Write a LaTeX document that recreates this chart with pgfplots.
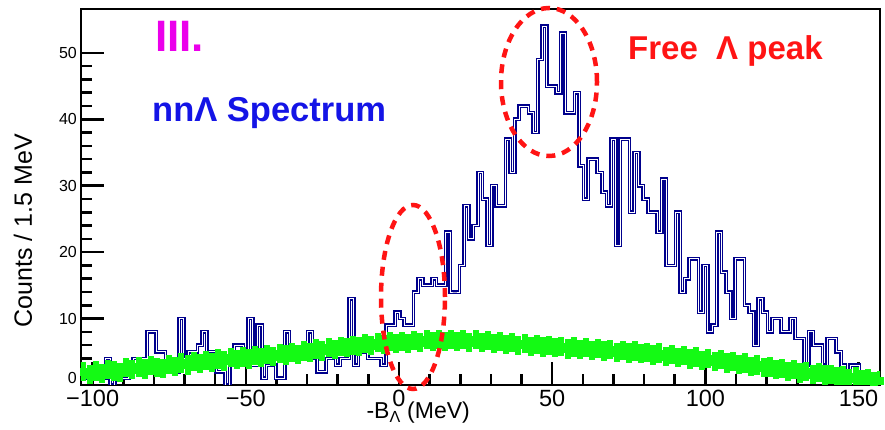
\documentclass[border=0pt]{standalone}
\usepackage{pgfplots}
\pgfplotsset{compat=1.18}
\usepackage{pgfplotstable}
\usepackage{fontspec}
\setmainfont{Liberation Sans}
\definecolor{histblue}{RGB}{0,0,140}
\definecolor{bkggreen}{RGB}{20,250,20}
\definecolor{annred}{RGB}{255,20,20}
\definecolor{annmag}{RGB}{235,0,235}
\definecolor{annblue}{RGB}{20,20,230}

% nnL spectrum, 1.5 MeV bins, left bin edges
\pgfplotstableread{
x y
-103.25 2
-101.75 1
-100.25 2
-98.75 2
-97.25 1
-95.75 4
-94.25 0
-92.75 1
-91.25 1
-89.75 1
-88.25 2
-86.75 4
-85.25 4
-83.75 4
-82.25 8
-80.75 8
-79.25 5
-77.75 5
-76.25 2
-74.75 2
-73.25 2
-71.75 10
-70.25 4
-68.75 5
-67.25 5
-65.75 6
-64.25 8
-62.75 5
-61.25 5
-59.75 2
-58.25 2
-56.75 0
-55.25 5
-53.75 6
-52.25 6
-50.75 5
-49.25 10
-47.75 3
-46.25 9
-44.75 1
-43.25 3
-41.75 3
-40.25 1
-38.75 1
-37.25 8
-35.75 5
-34.25 5
-32.75 4
-31.25 4
-29.75 8
-28.25 4
-26.75 2
-25.25 2
-23.75 4
-22.25 4
-20.75 3
-19.25 4
-17.75 4
-16.25 13
-14.75 3
-13.25 5
-11.75 5
-10.25 4
-8.75 4
-7.25 4
-5.75 3
-4.25 9
-2.75 9
-1.25 11
0.25 10
1.75 9
3.25 9
4.75 14
6.25 16
7.75 15
9.25 15
10.75 16
12.25 15
13.75 15
15.25 23
16.75 14
18.25 14
19.75 18
21.25 27
22.75 22
24.25 24
25.75 32
27.25 28
28.75 21
30.25 30
31.75 27
33.25 27
34.75 37
36.25 32
37.75 40
39.25 42
40.75 42
42.25 41
43.75 38
45.25 49
46.75 54
48.25 45
49.75 45
51.25 44
52.75 53
54.25 41
55.75 41
57.25 44
58.75 33
60.25 28
61.75 34
63.25 34
64.75 32
66.25 29
67.75 27
69.25 37
70.75 21
72.25 37
73.75 37
75.25 26
76.75 35
78.25 30
79.75 28
81.25 26
82.75 26
84.25 23
85.75 31
87.25 18
88.75 18
90.25 26
91.75 14
93.25 16
94.75 19
96.25 19
97.75 11
99.25 18
100.75 8
102.25 9
103.75 23
105.25 17
106.75 14
108.25 10
109.75 19
111.25 19
112.75 12
114.25 11
115.75 6
117.25 13
118.75 11
120.25 8
121.75 10
123.25 10
124.75 8
126.25 8
127.75 10
129.25 7
130.75 7
132.25 3
133.75 8
135.25 6
136.75 6
138.25 3
139.75 7
141.25 7
142.75 5
144.25 3
145.75 2
147.25 3
148.75 3
150.25 0
151.75 1
153.25 0
154.75 0
156.25 0
}\nnlspec

% background band
\pgfplotstableread{
x y
-103 2.0
-101 1.6
-99 2.1
-97 1.7
-95 2.3
-93 2.1
-91 1.9
-89 2.6
-87 2.3
-85 2.7
-83 2.4
-81 2.9
-79 2.6
-77 2.5
-75 3.1
-73 2.8
-71 3.3
-69 3.0
-67 3.5
-65 3.2
-63 3.7
-61 3.4
-59 3.9
-57 3.6
-55 4.1
-53 3.8
-51 4.2
-49 3.9
-47 4.4
-45 4.1
-43 4.6
-41 4.3
-39 4.7
-37 4.5
-35 4.9
-33 4.6
-31 5.1
-29 4.9
-27 5.4
-25 5.1
-23 5.6
-21 5.3
-19 5.8
-17 5.6
-15 6.0
-13 5.8
-11 6.2
-9 5.9
-7 6.4
-5 6.1
-3 6.5
-1 6.2
1 6.6
3 6.3
5 6.7
7 6.4
9 6.8
11 6.5
13 6.9
15 6.5
17 6.9
19 6.5
21 6.8
23 6.4
25 6.8
27 6.4
29 6.7
31 6.3
33 6.5
35 6.1
37 6.4
39 6.0
41 6.2
43 5.8
45 6.1
47 5.7
49 5.9
51 5.6
53 5.8
55 5.4
57 5.7
59 5.3
61 5.6
63 5.2
65 5.5
67 5.1
69 5.3
71 4.9
73 5.2
75 4.8
77 5.1
79 4.7
81 4.9
83 4.5
85 4.8
87 4.3
89 4.6
91 4.1
93 4.4
95 3.9
97 4.2
99 3.7
101 4.0
103 3.5
105 3.8
107 3.3
109 3.5
111 3.1
113 3.3
115 2.8
117 3.0
119 2.6
121 2.7
123 2.3
125 2.5
127 2.0
129 2.3
131 1.8
133 2.0
135 1.6
137 1.9
139 1.5
141 1.6
143 1.3
145 1.4
147 1.0
149 1.2
151 0.8
153 0.9
155 0.5
157 0.6
}\bkg

\begin{document}
\begin{tikzpicture}
\path[use as bounding box] (-81pt,-45pt) rectangle (804pt,385pt);
\begin{axis}[
    at={(0pt,0pt)}, anchor=south west,
    scale only axis, width=799pt, height=376pt,
    xmin=-103.8, xmax=157, ymin=0, ymax=56.6,
    axis line style={line width=2.6pt},
    tick pos=left, tick align=inside,
    tick style={line width=2.6pt, black},
    major tick length=23pt, minor tick length=11pt,
    xtick={-100,-50,0,50,100,150},
    xticklabels={−100,−50,0,50,100,150},
    ytick={0,10,20,30,40,50},
    yticklabels={\raisebox{1pt}[0pt][0pt]{0},10,20,30,40,50},
    minor x tick num=4, minor y tick num=4,
    x tick label style={font=\fontsize{23.5}{23.5}\selectfont, inner sep=1pt, yshift=-4pt},
    y tick label style={font=\fontsize{16}{16}\selectfont, inner sep=1pt, xshift=-3pt},
    xlabel={-B\textsubscript{Λ} (MeV)},
    xlabel style={font=\fontsize{23}{23}\selectfont, at={(axis description cs:0.422,-0.0745)}, anchor=center},
    ylabel={Counts / 1.5 MeV},
    ylabel style={font=\fontsize{25}{25}\selectfont, at={(axis description cs:-0.0726,0.41)}, anchor=center},
]
\addplot[const plot mark left, histblue, line width=3.8pt] table {\nnlspec};
\addplot[const plot mark left, white, line width=0.8pt] table {\nnlspec};
\addplot[only marks, mark=square*, mark size=3.4pt, bkggreen,
    mark options={fill=bkggreen, draw=bkggreen},
    error bars/.cd, y dir=both, y fixed=1.45, error mark=none,
    error bar style={line width=6pt, bkggreen}] table {\bkg};
\node[anchor=base west, inner sep=0pt, text=annmag, font=\fontsize{44}{44}\selectfont\bfseries] at (rel axis cs:0.0926,0.886) {III.};
\node[anchor=base west, inner sep=0pt, text=annblue, font=\fontsize{34.5}{34.5}\selectfont\bfseries] at (rel axis cs:0.0889,0.702) {nnΛ Spectrum};
\node[anchor=base west, inner sep=0pt, text=annred, font=\fontsize{33}{33}\selectfont\bfseries] at (rel axis cs:0.6846,0.867) {Free\ \ Λ peak};
\end{axis}
\draw[annred, line width=4.5pt, dash pattern=on 9pt off 7pt] (468pt,303pt) ellipse [x radius=48pt, y radius=74pt];
\draw[annred, line width=4.5pt, dash pattern=on 9pt off 7pt] (332pt,88pt) ellipse [x radius=32pt, y radius=92pt];
\end{tikzpicture}
\end{document}
